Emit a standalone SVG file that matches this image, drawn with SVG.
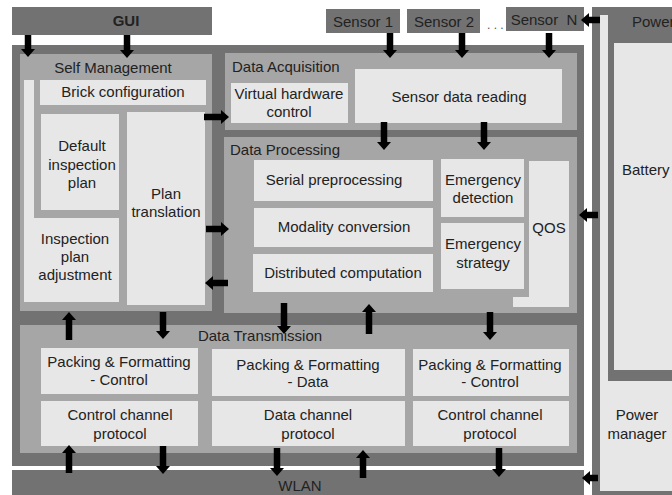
<svg xmlns="http://www.w3.org/2000/svg" width="672" height="495" viewBox="0 0 672 495">
<style>
.dk{fill:#727272}
.md{fill:#a6a6a6}
.lt{fill:#e7e7e7}
text{font-family:"Liberation Sans",Arial,sans-serif;font-size:15px;fill:#222}
.c{text-anchor:middle}
.arr{stroke:#000;stroke-width:6.5;fill:none;marker-end:url(#h)}
</style>
<defs>
<marker id="h" markerUnits="userSpaceOnUse" markerWidth="9" markerHeight="15" refX="0" refY="7" orient="auto" overflow="visible">
<path d="M0,0 L8,7 L0,14 z" fill="#000"/>
</marker>
</defs>
<rect width="672" height="495" fill="#fff"/>

<g id="gui"><rect class="dk" x="12" y="7" width="200" height="28"/><text class="c" x="126" y="26" style="font-weight:bold">GUI</text></g>
<g id="sensor1"><rect class="dk" x="326" y="9" width="74" height="24"/><text class="c" x="363" y="27">Sensor 1</text></g>
<g id="sensor2"><rect class="dk" x="407" y="9" width="73" height="24"/><text class="c" x="444" y="27">Sensor 2</text></g>
<g id="dots"><text x="487" y="29" style="font-size:12px;fill:#555">. . .</text></g>
<g id="sensorN"><rect class="dk" x="506" y="7" width="78" height="24"/><text class="c" x="544" y="25" xml:space="preserve">Sensor  N</text></g>

<g id="power">
<rect class="dk" x="592" y="7" width="80" height="488"/>
<rect class="lt" x="600" y="15" width="8" height="476"/>
<rect class="lt" x="600" y="381" width="72" height="110"/>
<rect class="lt" x="614" y="43" width="58" height="327"/>
<text x="632" y="27">Power</text>
<text x="622" y="175">Battery</text>
<text class="c" x="637" y="420">Power</text>
<text class="c" x="637" y="439">manager</text>
</g>

<g id="main"><rect class="dk" x="12" y="45" width="572" height="421"/></g>
<g id="wlan"><rect class="dk" x="12" y="470" width="572" height="25"/><text class="c" x="300" y="491">WLAN</text></g>

<g id="selfmgmt">
<rect class="md" x="20" y="54" width="192" height="257"/>
<text class="c" x="113" y="73">Self Management</text>
<rect class="lt" x="24" y="80" width="10" height="222"/>
<rect class="lt" x="24" y="218" width="95" height="84"/>
<rect class="lt" x="40" y="80" width="166" height="25"/>
<rect class="lt" x="41" y="114" width="78" height="96"/>
<rect class="lt" x="127" y="112" width="78" height="193"/>
<text class="c" x="82" y="151">Default</text>
<text class="c" x="82" y="170">inspection</text>
<text class="c" x="82" y="188">plan</text>
<text class="c" x="123" y="97">Brick configuration</text>
<text class="c" x="166" y="199">Plan</text>
<text class="c" x="166" y="217">translation</text>
<text class="c" x="75" y="244">Inspection</text>
<text class="c" x="75" y="262">plan</text>
<text class="c" x="75" y="280">adjustment</text>
</g>

<g id="acq">
<rect class="md" x="225" y="53" width="352" height="77"/>
<text x="232" y="72">Data Acquisition</text>
<rect class="lt" x="231" y="83" width="117" height="40"/>
<text class="c" x="289" y="99">Virtual hardware</text>
<text class="c" x="289" y="117">control</text>
<rect class="lt" x="355" y="69" width="207" height="54"/>
<text class="c" x="459" y="102">Sensor data reading</text>
</g>

<g id="proc">
<rect class="md" x="224" y="137" width="353" height="176"/>
<text x="230" y="155">Data Processing</text>
<rect class="lt" x="254" y="160" width="179" height="41"/>
<text class="c" x="334" y="185">Serial preprocessing</text>
<rect class="lt" x="254" y="208" width="179" height="39"/>
<text class="c" x="344" y="232">Modality conversion</text>
<rect class="lt" x="253" y="254" width="180" height="38"/>
<text class="c" x="343" y="278">Distributed computation</text>
<rect class="lt" x="441" y="159" width="83" height="58"/>
<text class="c" x="483" y="185">Emergency</text>
<text class="c" x="483" y="203">detection</text>
<rect class="lt" x="441" y="223" width="83" height="66"/>
<text class="c" x="483" y="249">Emergency</text>
<text class="c" x="483" y="268">strategy</text>
<path class="lt" d="M529,161 H569 V307 H513 V297 H529 Z"/>
<text class="c" x="549" y="233">QOS</text>
</g>

<g id="trans">
<rect class="md" x="20" y="325" width="557" height="128"/>
<text class="c" x="260" y="341">Data Transmission</text>
<rect class="lt" x="41" y="348" width="157" height="46"/>
<text class="c" x="119" y="367">Packing &amp; Formatting</text>
<text class="c" x="119" y="385">- Control</text>
<rect class="lt" x="41" y="401" width="157" height="45"/>
<text class="c" x="120" y="420">Control channel</text>
<text class="c" x="120" y="439">protocol</text>
<rect class="lt" x="212" y="349" width="193" height="47"/>
<text class="c" x="308" y="370">Packing &amp; Formatting</text>
<text class="c" x="308" y="387">- Data</text>
<rect class="lt" x="212" y="401" width="193" height="45"/>
<text class="c" x="308" y="420">Data channel</text>
<text class="c" x="308" y="439">protocol</text>
<rect class="lt" x="413" y="349" width="156" height="47"/>
<text class="c" x="490" y="370">Packing &amp; Formatting</text>
<text class="c" x="490" y="387">- Control</text>
<rect class="lt" x="413" y="401" width="156" height="45"/>
<text class="c" x="490" y="420">Control channel</text>
<text class="c" x="490" y="439">protocol</text>
</g>

<g id="connectors">
<line class="arr" x1="28" y1="35" x2="28" y2="49"/>
<line class="arr" x1="127" y1="35" x2="127" y2="50"/>
<line class="arr" x1="390" y1="33" x2="390" y2="50"/>
<line class="arr" x1="462" y1="33" x2="462" y2="50"/>
<line class="arr" x1="549" y1="33" x2="549" y2="50"/>
<line class="arr" x1="384" y1="122" x2="384" y2="142"/>
<line class="arr" x1="484" y1="122" x2="484" y2="142"/>
<line class="arr" x1="204" y1="117" x2="221" y2="117"/>
<line class="arr" x1="206" y1="229" x2="221" y2="229"/>
<line class="arr" x1="228" y1="283" x2="213" y2="283"/>
<line class="arr" x1="598" y1="215" x2="587" y2="215"/>
<line class="arr" x1="600" y1="20" x2="589" y2="20"/>
<line class="arr" x1="598" y1="478" x2="590" y2="478"/>
<line class="arr" x1="69" y1="340" x2="69" y2="320"/>
<line class="arr" x1="163" y1="312" x2="163" y2="331"/>
<line class="arr" x1="284" y1="303" x2="284" y2="326"/>
<line class="arr" x1="369" y1="334" x2="369" y2="312"/>
<line class="arr" x1="490" y1="312" x2="490" y2="332"/>
<line class="arr" x1="69" y1="473" x2="69" y2="453"/>
<line class="arr" x1="163" y1="446" x2="163" y2="466"/>
<line class="arr" x1="277" y1="448" x2="277" y2="468"/>
<line class="arr" x1="363" y1="478" x2="363" y2="458"/>
<line class="arr" x1="499" y1="448" x2="499" y2="469"/>
</g>
</svg>
